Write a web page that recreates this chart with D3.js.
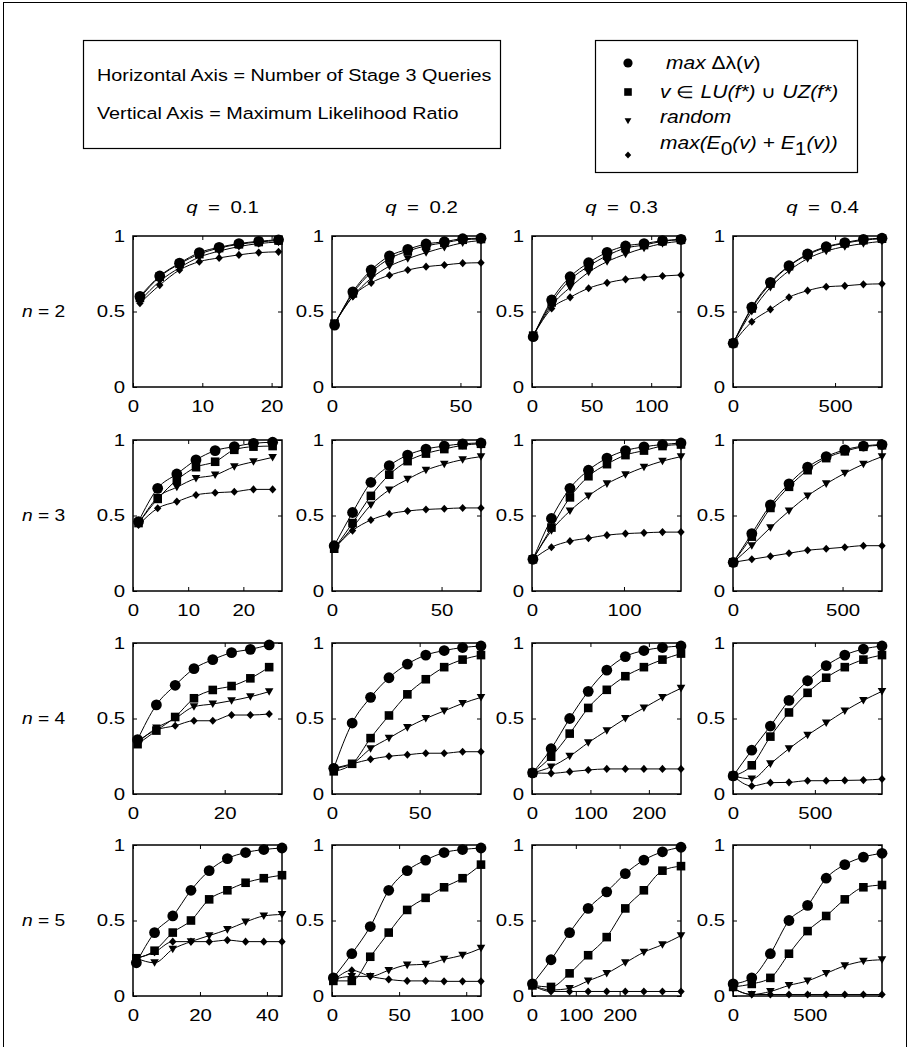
<!DOCTYPE html>
<html>
<head>
<meta charset="utf-8">
<script src="https://cdn.jsdelivr.net/npm/d3@7"></script>
<style>
body { margin: 0; background: #fff; }
svg { font-family: "Liberation Sans", Arial, sans-serif; }
</style>
</head>
<body>
<div id="chart"></div>
<script>
// column (q) and row (n) labels
const qValues = ["0.1", "0.2", "0.3", "0.4"];
const nValues = ["2", "3", "4", "5"];

// x axis end, last sampled query and tick values, per row (n) and column (q)
const xMax = [
    [21.5, 58, 125, 730],
    [27, 68, 162, 680],
    [32.5, 85, 255, 910],
    [44.5, 111, 340, 970]
];
const xLast = [
    [21, 58, 125, 730],
    [25.3, 68, 162, 680],
    [29.7, 85, 255, 910],
    [44.5, 111, 340, 970]
];
const xTicks = [
    [[0, 10, 20], [0, 50], [0, 50, 100], [0, 500]],
    [[0, 10, 20], [0, 50], [0, 100], [0, 500]],
    [[0, 20], [0, 50], [0, 100, 200], [0, 500]],
    [[0, 20, 40], [0, 50, 100], [0, 100, 200], [0, 500]]
];
const yTicks = [0, 0.5, 1];

// max Δλ(v)
const maxDelta = [
    [[0.60, 0.735, 0.82, 0.89, 0.925, 0.95, 0.965, 0.975],
     [0.41, 0.63, 0.775, 0.868, 0.912, 0.947, 0.962, 0.982, 0.985],
     [0.333, 0.576, 0.73, 0.823, 0.892, 0.934, 0.95, 0.969, 0.978],
     [0.29, 0.528, 0.693, 0.803, 0.881, 0.929, 0.956, 0.978, 0.985]],
    [[0.46, 0.68, 0.775, 0.868, 0.93, 0.956, 0.978, 0.985],
     [0.30, 0.52, 0.72, 0.83, 0.90, 0.94, 0.96, 0.975, 0.98],
     [0.21, 0.48, 0.68, 0.80, 0.88, 0.93, 0.955, 0.97, 0.98],
     [0.19, 0.38, 0.57, 0.71, 0.82, 0.89, 0.935, 0.96, 0.97]],
    [[0.36, 0.59, 0.72, 0.83, 0.89, 0.936, 0.958, 0.987],
     [0.17, 0.47, 0.64, 0.77, 0.86, 0.92, 0.95, 0.97, 0.98],
     [0.14, 0.30, 0.50, 0.68, 0.82, 0.91, 0.95, 0.97, 0.98],
     [0.12, 0.29, 0.45, 0.62, 0.75, 0.85, 0.92, 0.96, 0.98]],
    [[0.22, 0.42, 0.53, 0.70, 0.83, 0.91, 0.95, 0.97, 0.98],
     [0.12, 0.28, 0.46, 0.70, 0.83, 0.90, 0.95, 0.97, 0.98],
     [0.08, 0.24, 0.42, 0.58, 0.69, 0.81, 0.90, 0.955, 0.985],
     [0.08, 0.12, 0.28, 0.50, 0.60, 0.78, 0.87, 0.92, 0.945]]
];

// v in LU(f*) u UZ(f*)
const luUz = [
    [[0.59, 0.73, 0.815, 0.88, 0.92, 0.945, 0.96, 0.97],
     [0.42, 0.62, 0.76, 0.85, 0.90, 0.935, 0.955, 0.975, 0.98],
     [0.34, 0.56, 0.71, 0.80, 0.87, 0.92, 0.94, 0.965, 0.975],
     [0.29, 0.52, 0.685, 0.80, 0.875, 0.925, 0.952, 0.972, 0.982]],
    [[0.45, 0.61, 0.735, 0.82, 0.856, 0.935, 0.956, 0.96],
     [0.28, 0.45, 0.63, 0.77, 0.86, 0.91, 0.94, 0.965, 0.975],
     [0.21, 0.42, 0.62, 0.76, 0.84, 0.90, 0.93, 0.96, 0.97],
     [0.19, 0.36, 0.55, 0.69, 0.80, 0.88, 0.925, 0.955, 0.965]],
    [[0.33, 0.42, 0.51, 0.634, 0.689, 0.715, 0.766, 0.84],
     [0.15, 0.20, 0.37, 0.52, 0.66, 0.76, 0.84, 0.89, 0.92],
     [0.14, 0.247, 0.40, 0.57, 0.69, 0.78, 0.84, 0.89, 0.93],
     [0.12, 0.19, 0.38, 0.54, 0.67, 0.77, 0.84, 0.89, 0.92]],
    [[0.25, 0.30, 0.42, 0.50, 0.64, 0.70, 0.75, 0.78, 0.80],
     [0.10, 0.10, 0.26, 0.42, 0.57, 0.65, 0.72, 0.78, 0.87],
     [0.07, 0.06, 0.15, 0.27, 0.39, 0.58, 0.70, 0.83, 0.86],
     [0.06, 0.08, 0.12, 0.28, 0.43, 0.53, 0.64, 0.72, 0.735]]
];

// random
const randomQ = [
    [[0.57, 0.70, 0.79, 0.86, 0.90, 0.93, 0.95, 0.96],
     [0.42, 0.60, 0.72, 0.80, 0.85, 0.89, 0.925, 0.955, 0.97],
     [0.34, 0.54, 0.66, 0.76, 0.83, 0.88, 0.92, 0.95, 0.965],
     [0.29, 0.50, 0.66, 0.77, 0.85, 0.90, 0.93, 0.95, 0.965]],
    [[0.444, 0.62, 0.687, 0.746, 0.768, 0.823, 0.856, 0.885],
     [0.28, 0.42, 0.57, 0.67, 0.74, 0.80, 0.84, 0.87, 0.89],
     [0.21, 0.40, 0.53, 0.63, 0.71, 0.77, 0.82, 0.86, 0.89],
     [0.19, 0.30, 0.42, 0.53, 0.63, 0.71, 0.78, 0.84, 0.89]],
    [[0.34, 0.437, 0.50, 0.578, 0.596, 0.618, 0.644, 0.678],
     [0.17, 0.20, 0.30, 0.37, 0.44, 0.50, 0.55, 0.60, 0.64],
     [0.14, 0.18, 0.25, 0.34, 0.42, 0.50, 0.57, 0.64, 0.70],
     [0.12, 0.10, 0.20, 0.30, 0.39, 0.47, 0.55, 0.62, 0.68]],
    [[0.25, 0.22, 0.31, 0.36, 0.40, 0.44, 0.49, 0.53, 0.54],
     [0.11, 0.13, 0.13, 0.17, 0.205, 0.21, 0.243, 0.27, 0.316],
     [0.07, 0.04, 0.05, 0.10, 0.15, 0.22, 0.29, 0.34, 0.40],
     [0.05, 0.01, 0.03, 0.07, 0.10, 0.15, 0.20, 0.23, 0.24]]
];

// max(E0(v) + E1(v))
const maxE = [
    [[0.555, 0.675, 0.775, 0.83, 0.855, 0.875, 0.89, 0.895],
     [0.42, 0.60, 0.69, 0.74, 0.775, 0.797, 0.808, 0.82, 0.823],
     [0.34, 0.52, 0.594, 0.654, 0.69, 0.713, 0.726, 0.735, 0.742],
     [0.29, 0.432, 0.514, 0.594, 0.638, 0.664, 0.67, 0.68, 0.683]],
    [[0.437, 0.548, 0.592, 0.636, 0.651, 0.657, 0.673, 0.673],
     [0.28, 0.40, 0.47, 0.51, 0.53, 0.54, 0.545, 0.55, 0.55],
     [0.21, 0.29, 0.33, 0.35, 0.37, 0.38, 0.385, 0.39, 0.39],
     [0.19, 0.21, 0.23, 0.25, 0.27, 0.28, 0.29, 0.30, 0.30]],
    [[0.35, 0.424, 0.452, 0.485, 0.485, 0.523, 0.523, 0.53],
     [0.17, 0.20, 0.23, 0.25, 0.26, 0.27, 0.27, 0.28, 0.28],
     [0.14, 0.137, 0.148, 0.159, 0.166, 0.166, 0.166, 0.166, 0.166],
     [0.12, 0.053, 0.075, 0.077, 0.088, 0.088, 0.09, 0.092, 0.099]],
    [[0.25, 0.29, 0.36, 0.36, 0.36, 0.37, 0.36, 0.36, 0.36],
     [0.10, 0.17, 0.13, 0.11, 0.10, 0.10, 0.097, 0.097, 0.097],
     [0.07, 0.03, 0.03, 0.03, 0.03, 0.03, 0.03, 0.03, 0.03],
     [0.05, 0.01, 0.01, 0.01, 0.01, 0.01, 0.01, 0.01, 0.01]]
];

// the original figure is stretched sideways, so is its text
const SX = 1.2;

// marker shapes (r = half width)
const circleShape = { draw(ctx, r) { ctx.moveTo(r, 0); ctx.arc(0, 0, r, 0, 2 * Math.PI); } };
const squareShape = { draw(ctx, r) { ctx.rect(-r, -r, 2 * r, 2 * r); } };
const triangleShape = { draw(ctx, r) { ctx.moveTo(-r, -r * 0.8); ctx.lineTo(r, -r * 0.8); ctx.lineTo(0, r * 0.95); ctx.closePath(); } };
const diamondShape = { draw(ctx, r) { ctx.moveTo(0, -r * 1.1); ctx.lineTo(r, 0); ctx.lineTo(0, r * 1.1); ctx.lineTo(-r, 0); ctx.closePath(); } };

// drawing order: diamond first so circles end up on top
const series = [
    { values: maxE, shape: diamondShape, r: 3.7, legendR: 3.2 },
    { values: randomQ, shape: triangleShape, r: 4.3, legendR: 3.4 },
    { values: luUz, shape: squareShape, r: 4.3, legendR: 3.8 },
    { values: maxDelta, shape: circleShape, r: 5.4, legendR: 4.6 }
];

const colLeft = [133, 332, 532, 733];
const rowTop = [236, 440, 643, 845];
const pw = 149, ph = 151;

const svg = d3.select("#chart")
    .append("svg")
    .attr("width", 910)
    .attr("height", 1047);

// outer frame
svg.append("rect")
    .attr("x", 3.5).attr("y", 2.5)
    .attr("width", 903).attr("height", 1060)
    .attr("fill", "none").attr("stroke", "#000").attr("stroke-width", 1);

// text element, stretched sideways around its anchor point
function addText(parent, x, y, size) {
    return parent.append("g")
        .attr("transform", `translate(${x},${y}) scale(${SX},1)`)
        .append("text")
        .attr("font-size", size);
}

/**
 * axis description box
 */
function drawInfoBox() {
    const g = svg.append("g");
    g.append("rect")
        .attr("x", 83.5).attr("y", 40.5)
        .attr("width", 417).attr("height", 108)
        .attr("fill", "none").attr("stroke", "#000").attr("stroke-width", 1.2);
    addText(g, 97, 80.5, 16.5).text("Horizontal Axis = Number of Stage 3 Queries");
    addText(g, 97, 118.5, 16.5).text("Vertical Axis = Maximum Likelihood Ratio");
}

/**
 * marker legend box
 */
function drawLegend() {
    const g = svg.append("g");
    g.append("rect")
        .attr("x", 595.5).attr("y", 40.5)
        .attr("width", 262).attr("height", 132)
        .attr("fill", "none").attr("stroke", "#000").attr("stroke-width", 1.2);

    const rows = [
        { s: series[3], y: 63 },
        { s: series[2], y: 92 },
        { s: series[1], y: 121 },
        { s: series[0], y: 155 }
    ];
    rows.forEach(d => {
        g.append("path")
            .attr("transform", `translate(628,${d.y})`)
            .attr("d", d3.symbol().type(d.s.shape).size(d.s.legendR)())
            .attr("fill", "#000");
    });

    const t1 = addText(g, 666, 69, 17.5);
    t1.append("tspan").attr("font-style", "italic").text("max ");
    t1.append("tspan").text("Δλ(");
    t1.append("tspan").attr("font-style", "italic").text("v");
    t1.append("tspan").text(")");

    const t2 = addText(g, 660, 98, 17.5);
    t2.append("tspan").attr("font-style", "italic").text("v");
    t2.append("tspan").text(" ∈ ");
    t2.append("tspan").attr("font-style", "italic").text("LU(f*)");
    t2.append("tspan").text(" ∪ ");
    t2.append("tspan").attr("font-style", "italic").text("UZ(f*)");

    addText(g, 660, 123, 17.5).attr("font-style", "italic").text("random");

    const t4 = addText(g, 660, 149, 17.5).attr("font-style", "italic");
    t4.append("tspan").text("max(E");
    t4.append("tspan").attr("dy", 6).attr("font-style", "normal").text("0");
    t4.append("tspan").attr("dy", -6).text("(v) + E");
    t4.append("tspan").attr("dy", 6).attr("font-style", "normal").text("1");
    t4.append("tspan").attr("dy", -6).text("(v))");
}

/**
 * one small panel for row r (n) and column c (q)
 */
function drawPanel(r, c) {
    const g = svg.append("g")
        .attr("transform", `translate(${colLeft[c]},${rowTop[r]})`);

    const x = d3.scaleLinear().domain([0, xMax[r][c]]).range([0, pw]);
    const y = d3.scaleLinear().domain([0, 1]).range([ph, 0]);

    const styleAxis = a => {
        a.select(".domain").remove();
        a.attr("font-family", null).attr("font-size", 17);
        a.selectAll("line").attr("stroke-width", 1);
        a.selectAll("text").attr("fill", "#000").attr("transform", `scale(${SX},1)`);
    };

    // bottom and top x axes, ticks pointing inwards
    g.append("g")
        .attr("transform", `translate(0,${ph})`)
        .call(d3.axisBottom(x).tickValues(xTicks[r][c]).tickSize(-4).tickPadding(13))
        .call(styleAxis);
    g.append("g")
        .call(d3.axisTop(x).tickValues(xTicks[r][c]).tickSize(-4).tickFormat(""))
        .call(styleAxis);

    // left and right y axes
    g.append("g")
        .call(d3.axisLeft(y).tickValues(yTicks).tickSize(-4).tickPadding(6.5).tickFormat(d => d === 0.5 ? "0.5" : d3.format("d")(d)))
        .call(styleAxis);
    g.append("g")
        .attr("transform", `translate(${pw},0)`)
        .call(d3.axisRight(y).tickValues(yTicks).tickSize(-4).tickFormat(""))
        .call(styleAxis);

    // box
    g.append("rect")
        .attr("width", pw).attr("height", ph)
        .attr("fill", "none").attr("stroke", "#000").attr("stroke-width", 1.5);

    series.forEach(s => {
        const vals = s.values[r][c];
        const step = (xLast[r][c] - 1) / (vals.length - 1);
        const pts = vals.map((v, i) => ({ q: 1 + i * step, v: v }));

        const line = d3.line()
            .x(d => x(d.q))
            .y(d => y(d.v))
            .curve(d3.curveMonotoneX);

        g.append("path")
            .datum(pts)
            .attr("fill", "none")
            .attr("stroke", "#000")
            .attr("stroke-width", 1)
            .attr("d", line);

        g.selectAll(null)
            .data(pts)
            .enter()
            .append("path")
            .attr("transform", d => `translate(${x(d.q)},${y(d.v)})`)
            .attr("d", d3.symbol().type(s.shape).size(s.r))
            .attr("fill", "#000");
    });
}

drawInfoBox();
drawLegend();

// column titles
qValues.forEach((q, c) => {
    const t = addText(svg, colLeft[c] + pw / 2 + 15, 213, 17)
        .attr("text-anchor", "middle")
        .attr("word-spacing", 4);
    t.append("tspan").attr("font-style", "italic").text("q");
    t.append("tspan").text(" = " + q);
});

// row labels
nValues.forEach((n, r) => {
    const t = addText(svg, 22, rowTop[r] + ph / 2, 16)
        .attr("dy", "0.32em");
    t.append("tspan").attr("font-style", "italic").text("n");
    t.append("tspan").text(" = " + n);
});

nValues.forEach((n, r) => {
    qValues.forEach((q, c) => drawPanel(r, c));
});
</script>
</body>
</html>
